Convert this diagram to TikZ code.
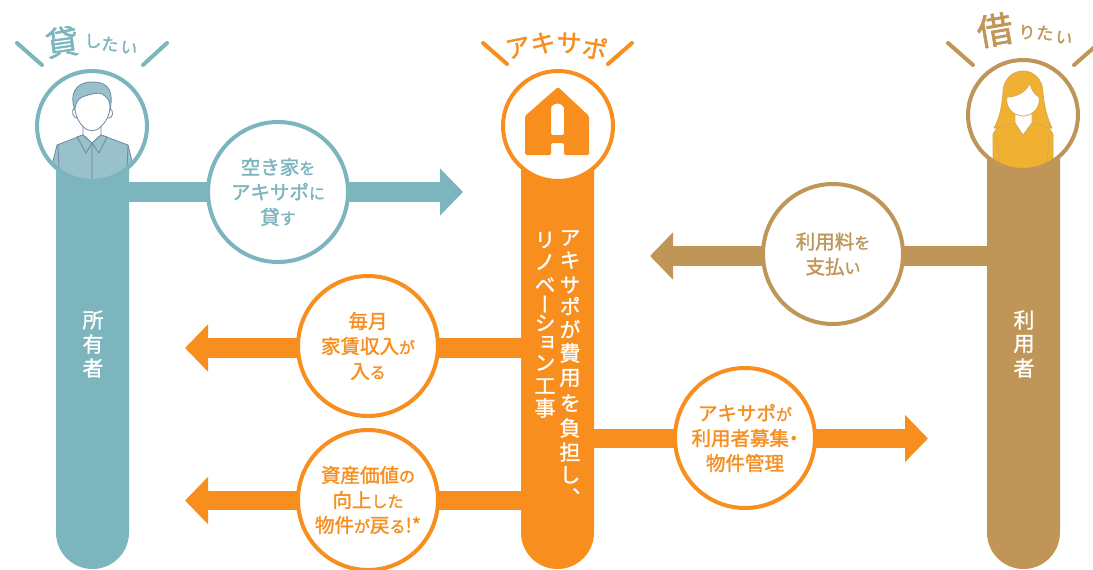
\documentclass[tikz,border=0pt]{standalone}
\usepackage{fontspec}
\usepackage{xcolor}
\usetikzlibrary{arrows.meta}
\setmainfont{Noto Sans CJK JP}[FakeBold=1.5]
\newfontfamily\vertfont{Noto Sans CJK JP}[RawFeature=+vert,FakeBold=1.2]
\definecolor{ownercol}{HTML}{7CB5BE}
\definecolor{akicol}{HTML}{F78E1E}
\definecolor{usercol}{HTML}{BF9558}
\definecolor{shirtcol}{HTML}{98C1C9}
\definecolor{linecol}{HTML}{6F86A8}
\definecolor{haircol}{HTML}{F0B032}
\definecolor{hairline}{HTML}{D8A850}
\newcommand{\kana}[1]{{\fontsize{16}{16}\selectfont #1}}
\begin{document}
\begin{tikzpicture}[x=1pt,y=-1pt,
    bubble/.style={circle, draw=#1, text=#1, fill=white, line width=4pt, minimum size=140pt, inner sep=0pt,
        align=center, font=\fontsize{19.5}{25}\selectfont},
    badge/.style={circle, draw=#1, line width=4pt, minimum size=110pt, inner sep=0pt},
    shaft/.style={draw=#1, line width=19.5pt, -{Triangle[length=23pt,width=46pt,color=#1]}},
    ray/.style={draw=#1, line width=4pt, line cap=round},
    bartext/.style={text=white, inner sep=0pt, font=\vertfont\fontsize{21}{21}\selectfont},
    head/.style={text=#1, font=\fontsize{33}{33}\selectfont},
    sub/.style={text=#1, font=\fontsize{17}{17}\selectfont}]
    \useasboundingbox (0,0) rectangle (1093,570);

    % Bars
    \foreach \xl/\yt/\col in {56/168/ownercol,521/168/akicol,987/157/usercol}
        \fill[\col] (\xl,\yt) -- (\xl,532.5) arc[start angle=180,end angle=0,radius=36.5] -- (\xl+73,\yt) -- cycle;

    % Ends of the arrows
    \coordinate (lendfrom) at (129,192);
    \coordinate (lendto) at (463,192);
    \coordinate (payfrom) at (987,256);
    \coordinate (payto) at (650,256);
    \coordinate (rentfrom) at (522,348);
    \coordinate (rentto) at (185,348);
    \coordinate (valuefrom) at (522,500.5);
    \coordinate (valueto) at (185,500.5);
    \coordinate (managefrom) at (594,438.5);
    \coordinate (manageto) at (928,438.5);

    \draw[shaft=ownercol] (lendfrom) -- (lendto);
    \draw[shaft=usercol] (payfrom) -- (payto);
    \draw[shaft=akicol] (rentfrom) -- (rentto);
    \draw[shaft=akicol] (valuefrom) -- (valueto);
    \draw[shaft=akicol] (managefrom) -- (manageto);

    % Bubbles
    \node[bubble=ownercol] (lend) at (278,192) {空き家\kana{を}\\アキサポ\kana{に}\\貸\kana{す}};
    \node[bubble=usercol] (pay) at (833,254) {利用料\kana{を}\\支払\kana{い}};
    \node[bubble=akicol] (rent) at (368,346) {毎月\\家賃収入\kana{が}\\入\kana{る}};
    \node[bubble=akicol] (value) at (368,500) {資産価値\kana{の}\\向上\kana{した}\\物件\kana{が}戻\kana{る}!*};
    \node[bubble=akicol] (manage) at (745,438) {アキサポ\kana{が}\\利用者募集\kern-5pt・\kern-5pt\\物件管理};

    % Owner
    \fill[white] (92,126) circle (55);
    \begin{scope}
        \clip (92,126) circle (55);
        \filldraw[fill=shirtcol, draw=linecol, line width=.8pt] (83,135) -- (57,145) -- (52,165) -- (52,190) -- (133,190) -- (133,165) -- (128,145) -- (101,135) -- cycle;
        \filldraw[fill=white, draw=linecol, line width=.8pt] (83,122) -- (83,135) -- (92,143) -- (101,135) -- (101,122) -- cycle;
        \filldraw[fill=shirtcol, draw=linecol, line width=.8pt] (83,135) -- (77,137) -- (86,153) -- (92,143) -- (99,153) -- (107,137) -- (101,135) -- (92,143) -- cycle;
        \draw[linecol, line width=.8pt] (92,143) -- (92,185) (58,145) -- (59,170) (128,145) -- (127,170);
        \filldraw[fill=white, draw=linecol, line width=.8pt] (74,108) .. controls (71,111) and (73,118) .. (77,118) -- (109,118) .. controls (113,118) and (114,111) .. (110,108) -- cycle;
        \filldraw[fill=shirtcol, draw=linecol, line width=.8pt] (75,110) .. controls (69,95) and (75,82) .. (92,82) .. controls (103,82) and (115,85) .. (110,110) -- cycle;
        \filldraw[fill=white, draw=linecol, line width=.8pt] (75,108) .. controls (76,101) and (80,97) .. (85,96) .. controls (92,94) and (98,92) .. (102,94) .. controls (106,96) and (110,100) .. (110,106) .. controls (110,115) and (106,123) .. (98,129) .. controls (95,131) and (89,131) .. (86,129) .. controls (80,125) and (75,116) .. (75,108) -- cycle;
    \end{scope}
    \node[badge=ownercol] (owner) at (92,126) {};

    % Akisapo
    \fill[white] (558,126) circle (55);
    \fill[akicol, rounded corners=1.5pt, even odd rule] (558,87) -- (589,116) -- (589,155) -- (564,155) -- (564,143) -- (551,143) -- (551,155) -- (525,155) -- (525,116) -- cycle
        (551,135) -- (551,110) arc[start angle=180,end angle=360,radius=6.5] -- (564,135) -- cycle;
    \node[badge=akicol] (aki) at (558,126) {};

    % User
    \fill[white] (1023,115) circle (55);
    \begin{scope}
        \clip (1023,115) circle (55);
        \filldraw[fill=haircol, draw=hairline, line width=.8pt] (1003,93) .. controls (1002,105) and (1000,118) .. (994,128) -- (1052,128) .. controls (1047,118) and (1044,105) .. (1043,93) .. controls (1043,79) and (1033,71) .. (1023,71) .. controls (1013,71) and (1003,79) .. (1003,93) -- cycle;
        \filldraw[fill=haircol, draw=hairline, line width=.8pt] (1015,123) -- (997,128) -- (993,134) -- (993,185) -- (1053,185) -- (1053,134) -- (1049,128) -- (1032,123) -- (1023,135) -- cycle;
        \filldraw[fill=white, draw=hairline, line width=.8pt] (1015,110) -- (1015,123) -- (1023,135) -- (1032,123) -- (1032,110) -- cycle;
        \filldraw[fill=white, draw=hairline, line width=.8pt] (1007,97) .. controls (1017,97) and (1026,92) .. (1030,83) .. controls (1031,89) and (1034,94) .. (1039,97) .. controls (1041,107) and (1033,116) .. (1023,116) .. controls (1013,116) and (1005,107) .. (1007,97) -- cycle;
        \draw[hairline, line width=.8pt] (997,135) -- (1000,165) (1049,135) -- (1047,165);
    \end{scope}
    \node[badge=usercol] (user) at (1023,115) {};

    % Rays
    \coordinate (ra) at (17,43); \coordinate (rb) at (42,65);
    \coordinate (rc) at (167,43); \coordinate (rd) at (143,65);
    \coordinate (re) at (483,43); \coordinate (rf) at (507,64);
    \coordinate (rg) at (632,43); \coordinate (rh) at (608,64);
    \coordinate (ri) at (948,43); \coordinate (rj) at (973,65);
    \coordinate (rk) at (1098,44); \coordinate (rl) at (1074,65);
    \draw[ray=ownercol] (ra) -- (rb);
    \draw[ray=ownercol] (rc) -- (rd);
    \draw[ray=akicol] (re) -- (rf);
    \draw[ray=akicol] (rg) -- (rh);
    \draw[ray=usercol] (ri) -- (rj);
    \draw[ray=usercol] (rk) -- (rl);

    % Headings
    \node[head=ownercol, rotate=8] (tlend) at (62,42) {貸};
    \node[sub=ownercol, rotate=2] (tlenda) at (93,41) {し};
    \node[sub=ownercol, rotate=-6] (tlendb) at (110,44) {た};
    \node[sub=ownercol, rotate=-12] (tlendc) at (129,48) {い};
    \node[head=akicol, rotate=12, inner sep=0pt, font=\fontsize{25}{25}\selectfont] (taa) at (518,48) {ア};
    \node[head=akicol, rotate=5, inner sep=0pt, font=\fontsize{25}{25}\selectfont] (tab) at (543,43) {キ};
    \node[head=akicol, rotate=-3, inner sep=0pt, font=\fontsize{25}{25}\selectfont] (tac) at (569,43) {サ};
    \node[head=akicol, rotate=-10, inner sep=0pt, font=\fontsize{25}{25}\selectfont] (tad) at (595,48) {ポ};
    \node[head=usercol, rotate=10, font=\fontsize{36}{36}\selectfont] (tuse) at (995,30) {借};
    \node[sub=usercol, rotate=2] (tusea) at (1027,32) {り};
    \node[sub=usercol, rotate=-6] (tuseb) at (1045,33) {た};
    \node[sub=usercol, rotate=-12] (tusec) at (1064,38) {い};

    % Bar texts
    \foreach \c/\y [count=\i] in {所/320,有/344,者/368}
        \node[bartext] (owner\i) at (93,\y) {\c};
    \foreach \c/\y [count=\i] in {利/320,用/344,者/368}
        \node[bartext] (user\i) at (1024,\y) {\c};
    \foreach \c/\y [count=\i] in {ア/238,キ/260,サ/285,ポ/306,が/329,費/353,用/378,を/403,負/428,担/452,し/475,、/497}
        \node[bartext] (akia\i) at (570,\y) {\c};
    \foreach \c/\y [count=\i] in {リ/240,ノ/262,ベ/285,ー/304,シ/323,ョ/343,ン/363,工/386,事/408}
        \node[bartext] (akib\i) at (545,\y) {\c};
\end{tikzpicture}
\end{document}
